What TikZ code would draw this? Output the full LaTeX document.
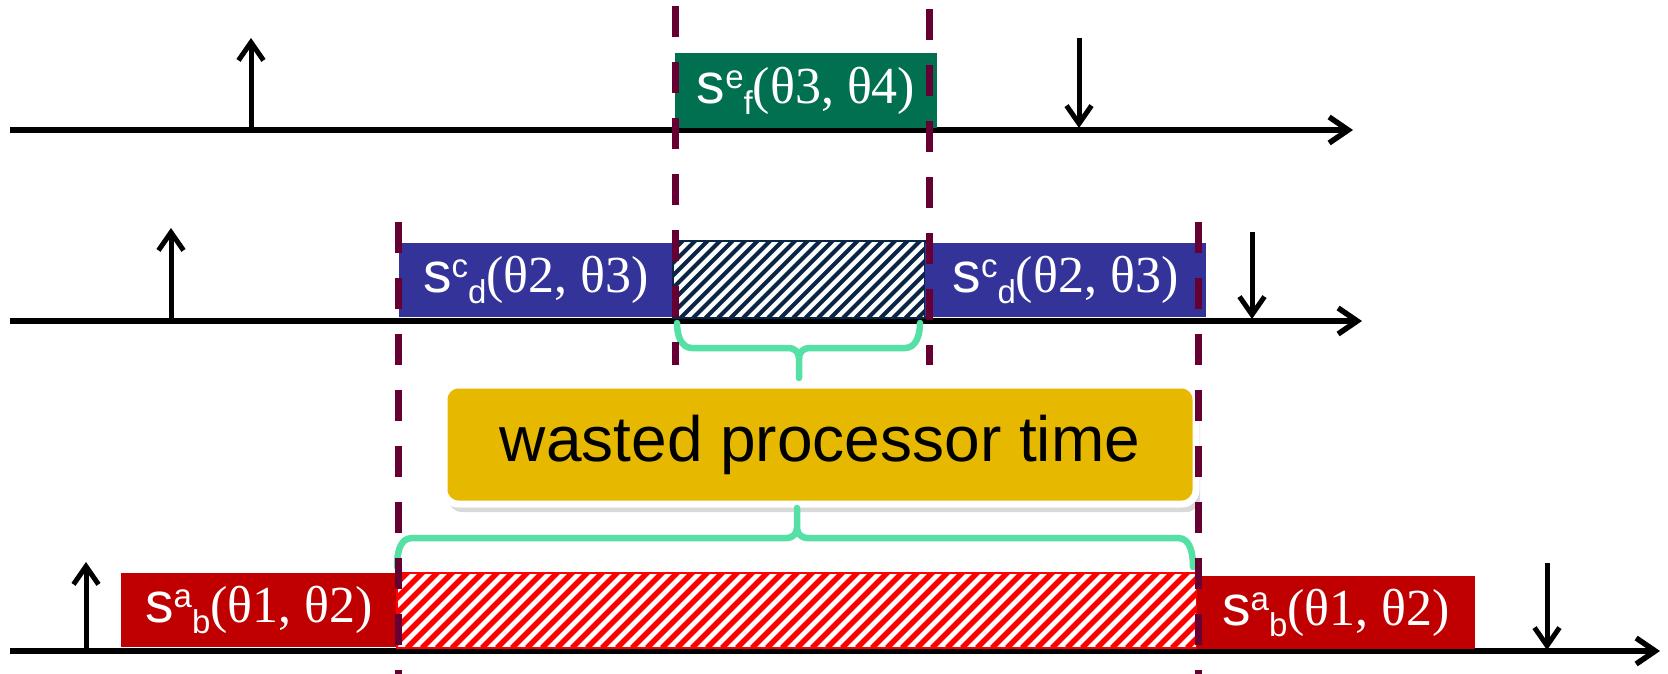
\documentclass[tikz,border=0pt]{standalone}
\usepackage{fontspec}
\setmainfont{Liberation Serif}
\setsansfont{Liberation Sans}
\usetikzlibrary{arrows.meta,shadows}

\definecolor{jobgreen}{HTML}{007050}
\definecolor{jobblue}{HTML}{333399}
\definecolor{jobred}{HTML}{C00000}
\definecolor{cutmaroon}{HTML}{660033}
\definecolor{wasteyellow}{HTML}{E6B800}
\definecolor{bracegreen}{HTML}{55E0A5}
\definecolor{hatchnavy}{HTML}{0B2545}
\definecolor{hatchred}{HTML}{FF0000}

% job label: s^{#1}_{#2}(theta#3, theta#4)
\newcommand{\joblab}[4]{{\sffamily\fontsize{57}{60}\selectfont s}\raisebox{15pt}{\fontsize{33}{33}\selectfont\sffamily #1}\raisebox{-11pt}{\fontsize{33}{33}\selectfont\sffamily #2}(θ#3, θ#4)}

\tikzset{
  jobbox/.style={inner sep=0pt, text=white, minimum height=74pt, font=\fontsize{52}{60}\selectfont},
  axisline/.style={line width=5.5pt, -{Straight Barb[length=19pt,width=26pt]}},
  eventarrow/.style={line width=5pt, -{Straight Barb[length=18pt,width=25pt]}},
  cutline/.style={cutmaroon, line width=7pt, dash pattern=on 31pt off 25pt},
  bracket/.style={bracegreen, line width=6.5pt, line cap=round, line join=round},
}

\begin{document}
\begin{tikzpicture}[x=1pt, y=-1pt]
  \useasboundingbox (0,0) rectangle (1668,674);

  % time axes
  \foreach \y/\xe in {130/1353, 321/1362, 651/1660}
    \draw[axisline] (10,\y) -- (\xe,\y);

  % releases and deadlines
  \foreach \x/\ya/\yb in {251/130/38, 171/321/228, 86/651/562}
    \draw[eventarrow] (\x,\ya) -- (\x,\yb);
  \foreach \x/\ya/\yb in {1079/38/128, 1252/232/319, 1547/563/650}
    \draw[eventarrow] (\x,\ya) -- (\x,\yb);

  % top task
  \node[jobbox, fill=jobgreen, minimum width=262pt, minimum height=75pt] (sef) at (806,90.5) {\joblab{e}{f}{3}{4}};

  % middle task, preempted
  \node[jobbox, fill=jobblue, minimum width=274pt] (scdA) at (536,280) {\joblab{c}{d}{2}{3}};
  \node[draw=hatchnavy, line width=1.5pt, fill=white, inner sep=0pt,
        minimum width=252pt, minimum height=77pt,
        path picture={\foreach \k in {0,...,28}
          \draw[hatchnavy, line width=4pt] ([xshift=\k*12.5pt-80pt]path picture bounding box.south west) -- ++(80pt,80pt);}]
        (gapC) at (799,279.5) {};
  \node[jobbox, fill=jobblue, minimum width=281pt] (scdB) at (1065.5,280) {\joblab{c}{d}{2}{3}};

  % bottom task, preempted
  \node[jobbox, fill=jobred, minimum width=276pt] (sabA) at (259,610) {\joblab{a}{b}{1}{2}};
  \node[draw=hatchred, line width=1.5pt, fill=white, inner sep=0pt,
        minimum width=800pt, minimum height=75pt,
        path picture={\foreach \k in {0,...,60}
          \draw[hatchred, line width=5.5pt] ([xshift=\k*15pt-80pt]path picture bounding box.south west) -- ++(80pt,80pt);}]
        (gapA) at (797,610.5) {};
  \node[jobbox, fill=jobred, minimum width=278pt, minimum height=73pt] (sabB) at (1336,612.5) {\joblab{a}{b}{1}{2}};

  % callout
  \node[draw=white, line width=7pt, fill=wasteyellow, rounded corners=14pt, inner sep=0pt,
        minimum width=752pt, minimum height=119pt,
        drop shadow={shadow xshift=4pt, shadow yshift=-8pt, opacity=0.3},
        font=\sffamily\fontsize{64}{70}\selectfont] (waste) at (820,444.5) {wasted processor time};

  % braces
  \draw[bracket] (677,323) to[out=-90,in=180] (692,348) -- (789,348) to[out=0,in=90] (799,358) -- (799,378);
  \draw[bracket] (920,323) to[out=-90,in=0] (905,348) -- (809,348) to[out=180,in=90] (799,358);
  \draw[bracket] (397,567) to[out=90,in=180] (412,538) -- (787,538) to[out=0,in=-90] (797,528) -- (797,508);
  \draw[bracket] (1193,567) to[out=90,in=0] (1178,538) -- (807,538) to[out=180,in=-90] (797,528);

  % preemption boundaries
  \draw[cutline] (675,6) -- (675,365);
  \draw[cutline] (929,9) -- (929,365);
  \draw[cutline] (398,222) -- (398,674);
  \draw[cutline] (1198,222) -- (1198,674);
\end{tikzpicture}
\end{document}
